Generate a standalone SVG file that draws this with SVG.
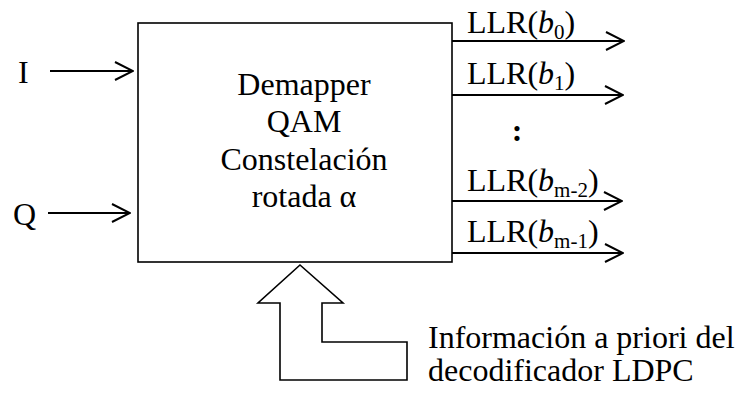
<svg xmlns="http://www.w3.org/2000/svg" width="739" height="402" viewBox="0 0 739 402">
  <defs>
    <marker id="chev" viewBox="0 0 20 20" refX="19" refY="10" markerWidth="20" markerHeight="20" markerUnits="userSpaceOnUse" orient="auto">
      <path d="M1,1 L19,10 L1,19" fill="none" stroke="#000" stroke-width="2"/>
    </marker>
  </defs>
  <style>
    text { font-family: "Liberation Serif", "Times New Roman", serif; font-size: 32px; fill: #000; }
    .sub { font-size: 21px; }
    .it { font-style: italic; }
    .line { stroke: #000; stroke-width: 2; fill: none; }
    .shape { stroke: #000; stroke-width: 1.6; fill: #fff; }
  </style>
  <rect width="739" height="402" fill="#fff"/>

  <!-- demapper block -->
  <g id="demapper">
    <rect class="shape" x="138" y="23" width="314" height="239"/>
    <text x="304" y="95" text-anchor="middle">Demapper</text>
    <text x="304" y="132" text-anchor="middle">QAM</text>
    <text x="304" y="170" text-anchor="middle">Constelación</text>
    <text x="304" y="207" text-anchor="middle">rotada α</text>
  </g>

  <!-- inputs -->
  <g id="in-i"><text x="18" y="83">I</text></g>
  <g id="in-q"><text x="13" y="225">Q</text></g>

  <!-- output labels -->
  <g id="out-b0"><text x="467" y="33">LLR(<tspan class="it">b</tspan><tspan class="sub" dy="6">0</tspan><tspan dy="-6">)</tspan></text></g>
  <g id="out-b1"><text x="467" y="84">LLR(<tspan class="it">b</tspan><tspan class="sub" dy="6">1</tspan><tspan dy="-6">)</tspan></text></g>
  <g id="dots"><text x="517" y="141" text-anchor="middle" font-weight="bold">:</text></g>
  <g id="out-bm2"><text x="467" y="191">LLR(<tspan class="it">b</tspan><tspan class="sub" dy="6">m-2</tspan><tspan dy="-6">)</tspan></text></g>
  <g id="out-bm1"><text x="467" y="242">LLR(<tspan class="it">b</tspan><tspan class="sub" dy="6">m-1</tspan><tspan dy="-6">)</tspan></text></g>

  <!-- a priori information from the LDPC decoder -->
  <g id="apriori">
    <polygon class="shape" points="300,265 343,303 322,303 322,342 407,342 407,380 280,380 280,303 258,303"/>
    <text x="428" y="348">Información a priori del</text>
    <text x="428" y="381">decodificador LDPC</text>
  </g>

  <!-- connectors -->
  <g id="connectors">
    <line class="line" x1="50" y1="71" x2="133" y2="71" marker-end="url(#chev)"/>
    <line class="line" x1="48" y1="213" x2="130" y2="213" marker-end="url(#chev)"/>
    <line class="line" x1="452" y1="41" x2="624" y2="41" marker-end="url(#chev)"/>
    <line class="line" x1="452" y1="95" x2="623" y2="95" marker-end="url(#chev)"/>
    <line class="line" x1="452" y1="201" x2="622" y2="201" marker-end="url(#chev)"/>
    <line class="line" x1="452" y1="253" x2="623" y2="253" marker-end="url(#chev)"/>
  </g>
</svg>
